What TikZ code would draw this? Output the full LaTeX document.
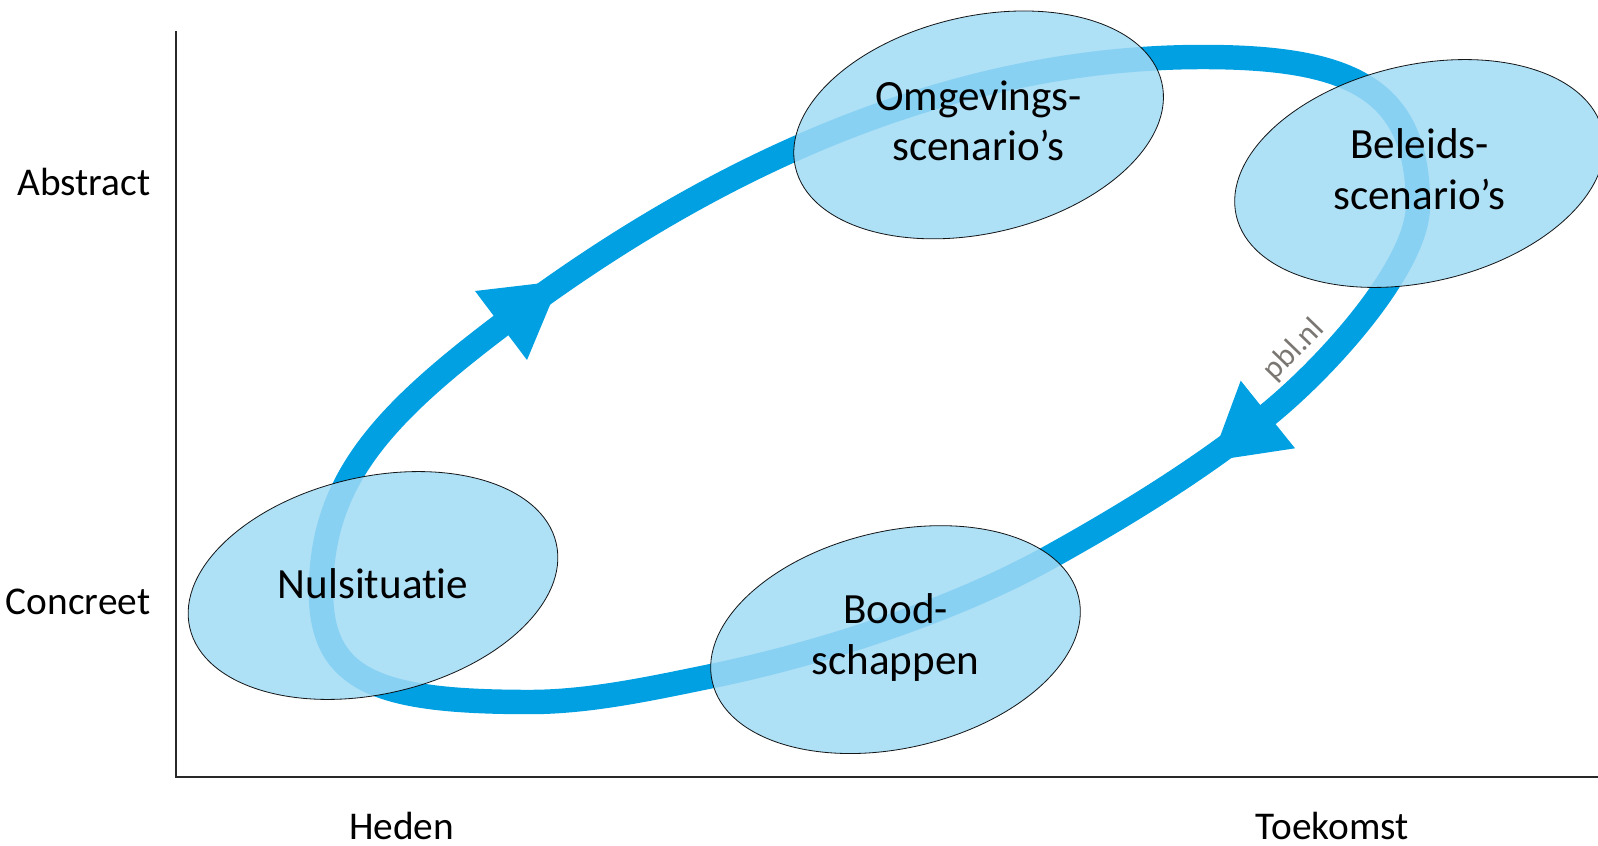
\documentclass[tikz,border=0pt]{standalone}
\usepackage{fontspec}
\setmainfont{Carlito}[Ligatures=NoCommon]
\usetikzlibrary{shapes.geometric}
\definecolor{ringblue}{RGB}{0,160,226}
\definecolor{blobfill}{RGB}{160,218,245}
\definecolor{axisgray}{RGB}{40,40,40}
\definecolor{markgray}{RGB}{122,118,114}
\tikzset{
  blob/.style={ellipse, minimum width=369pt, minimum height=213pt, inner sep=0pt,
    rotate=13, fill=blobfill, fill opacity=0.85, draw=black, draw opacity=0.9, line width=0.8pt},
  blobtext/.style={align=center, font=\fontsize{42.3}{50}\selectfont, text=black},
  axistext/.style={font=\fontsize{38.6}{42}\selectfont, text=black, inner sep=0pt},
  axisline/.style={draw=axisgray, line width=2pt},
  ring/.style={draw=ringblue, line width=24pt},
  arrowhead/.style={fill=ringblue}
}
\begin{document}
\begin{tikzpicture}[x=0.98123pt,y=-0.98123pt]
\useasboundingbox (0,0) rectangle (1598,846);
\clip (0,0) rectangle (1598,846);
% axes
\coordinate (origin) at (176,777);
\coordinate (ytop) at (176,31);
\coordinate (xend) at (1598,777);
\draw[axisline] (ytop) -- (origin) -- (xend);
\node[axistext, anchor=east] (abstract) at (150.5,181.5) {Abstract};
\node[axistext, anchor=east] (concreet) at (150.5,601.5) {Concreet};
\node[axistext] (heden) at (401.6,826) {Heden};
\node[axistext] (toekomst) at (1332.3,826) {Toekomst};
% ring
\coordinate (rA) at (1203,57);
\coordinate (rB) at (1418,205);
\coordinate (rC) at (1268,414.5);
\coordinate (rD) at (1050,557);
\coordinate (rD2) at (712,676);
\coordinate (rE) at (530,702);
\coordinate (rF) at (321,592);
\coordinate (rG) at (501,325.5);
\draw[ring] (rA) .. controls (1353,57) and (1418,90) .. (rB)
  .. controls (1418,265) and (1330,364) .. (rC)
  .. controls (1202,468.2) and (1124.3,515.7) .. (rD)
  .. controls (953.9,610.5) and (819.8,654) .. (rD2)
  .. controls (653.2,688) and (590,702) .. (rE)
  .. controls (380,702) and (321,682) .. (rF)
  .. controls (321,482) and (381,416.3) .. (rG)
  .. controls (653,210.5) and (903,57) .. (rA) -- cycle;
% arrowheads
\coordinate (la1) at (475,291);
\coordinate (la2) at (527,360);
\coordinate (latip) at (560,281);
\fill[arrowhead] (la1) -- (la2) -- (latip) -- cycle;
\coordinate (ra1) at (1240.7,380.7);
\coordinate (ra2) at (1295,448.3);
\coordinate (ratip) at (1211,461);
\fill[arrowhead] (ra1) -- (ra2) -- (ratip) -- cycle;
% ellipses
\node[blob] (omg) at (978.6,124.9) {};
\node[blob] (bel) at (1419.5,173.5) {};
\node[blob] (nul) at (373,585.5) {};
\node[blob] (bood) at (895.5,639.6) {};
\node[blobtext, yshift=4pt] (omgt) at (omg.center) {Omgevings-\\scenario’s};
\node[blobtext, yshift=4pt] (belt) at (bel.center) {Beleids-\\scenario’s};
\node[blobtext, yshift=2pt] (nult) at (nul.center) {Nulsituatie};
\node[blobtext, yshift=2pt] (boodt) at (bood.center) {Bood-\\schappen};
% watermark
\node[font=\fontsize{31}{33}\selectfont, text=markgray, rotate=46, inner sep=0pt] (pbl) at (1294,350) {pbl.nl};
\end{tikzpicture}
\end{document}
